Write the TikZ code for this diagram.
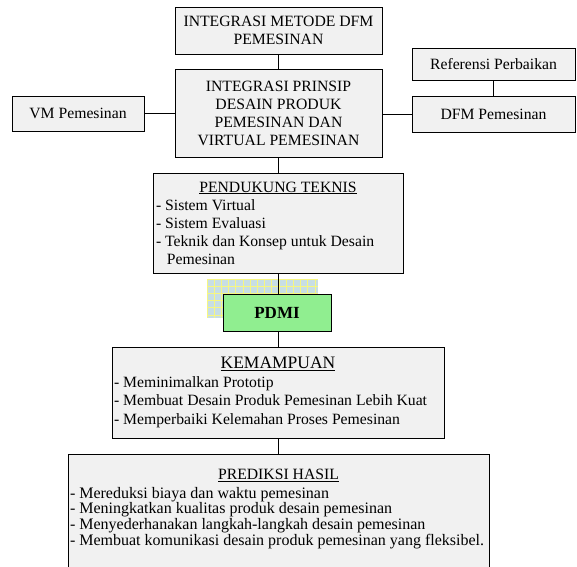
\documentclass[tikz,border=0pt]{standalone}
\usepackage{fontspec}
\setmainfont{Liberation Serif}
\definecolor{boxgray}{RGB}{241,241,241}
\definecolor{pdmigreen}{RGB}{144,238,144}
\definecolor{gridblue}{RGB}{200,222,228}
\definecolor{gridyellow}{RGB}{246,246,130}
\tikzset{
  box/.style={draw=black, line width=1pt, fill=boxgray, inner sep=0pt, rectangle},
  conn/.style={draw=black, line width=1pt},
  every node/.style={font=\fontsize{15.7pt}{18pt}\selectfont}
}
\begin{document}
\begin{tikzpicture}[x=1pt,y=1pt]
\useasboundingbox (0,0) rectangle (577,-566);
\clip (0,0) rectangle (577,-566);

% top box
\node[box, minimum width=207pt, minimum height=47pt, align=center] (dfm1) at (278.5,-30.5)
  {INTEGRASI METODE DFM\\PEMESINAN};
% main box
\node[box, minimum width=207pt, minimum height=88pt, align=center] (main) at (278.5,-113)
  {INTEGRASI PRINSIP\\DESAIN PRODUK\\PEMESINAN DAN\\VIRTUAL PEMESINAN};
% side boxes
\node[box, minimum width=132pt, minimum height=35pt] (vm) at (78,-113.5) {VM Pemesinan};
\node[box, minimum width=163pt, minimum height=32pt] (ref) at (493.5,-64) {Referensi Perbaikan};
\node[box, minimum width=163pt, minimum height=36pt] (dfm) at (493.5,-114) {DFM Pemesinan};

% pendukung
\node[box, minimum width=250pt, minimum height=100pt] (pend) at (278,-223)
  {\parbox{244pt}{\centering\underline{PENDUKUNG TEKNIS}\par\raggedright
   - Sistem Virtual\\
   - Sistem Evaluasi\\
   - Teknik dan Konsep untuk Desain\\
   \hspace*{0.7em}Pemesinan}};

% grid pattern
\fill[gridblue] (207,-279) rectangle (318,-318);
\begin{scope}[shift={(207,-279)}]
  \draw[gridyellow, line width=1pt, step=7.2pt] (0,-39) grid (111,0);
\end{scope}

% PDMI
\node[box, fill=pdmigreen, minimum width=108pt, minimum height=37pt] (pdmi) at (277,-313)
  {\fontsize{17pt}{20pt}\selectfont\bfseries PDMI};

% kemampuan
\node[box, minimum width=332pt, minimum height=91pt] (kem) at (278,-392.5)
  {\parbox{328pt}{\centering{\fontsize{17.5pt}{20pt}\selectfont\underline{KEMAMPUAN}}\par\raggedright
   \fontsize{15.7pt}{18.5pt}\selectfont
   - Meminimalkan Prototip\\
   - Membuat Desain Produk Pemesinan Lebih Kuat\\
   - Memperbaiki Kelemahan Proses Pemesinan}};

% prediksi
\node[box, minimum width=421pt, minimum height=130pt] (pred) at (278.5,-519)
  {\parbox[c][126pt][t]{417pt}{\vspace*{13pt}\centering\underline{PREDIKSI HASIL}\par\vspace{3pt}\raggedright
   \fontsize{16pt}{15.7pt}\selectfont
   - Mereduksi biaya dan waktu pemesinan\\
   - Meningkatkan kualitas produk desain pemesinan\\
   - Menyederhanakan langkah-langkah desain pemesinan\\
   - Membuat komunikasi desain produk pemesinan yang fleksibel.}};

% connectors
\draw[conn] (dfm1.south) -- (dfm1.south |- main.north);
\draw[conn] (vm.east) -- (vm.east -| main.west);
\draw[conn] (dfm.west) -- (dfm.west -| main.east);
\draw[conn] (ref.south) -- (ref.south |- dfm.north);
\draw[conn] (main.south) -- (main.south |- pend.north);
\draw[conn] (pend.south) -- (pend.south |- pdmi.north);
\draw[conn] (pend.south |- pdmi.south) -- (pend.south |- kem.north);
\draw[conn] (kem.south) -- (kem.south |- pred.north);
\end{tikzpicture}
\end{document}
